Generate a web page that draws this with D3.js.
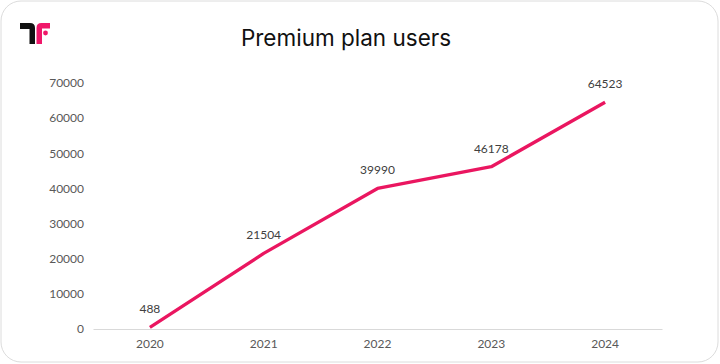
<!DOCTYPE html>
<html><head><meta charset="utf-8">
<script src="https://cdn.jsdelivr.net/npm/d3@7"></script>
<style>
html,body{margin:0;padding:0;background:#fff;}
svg{display:block;}
</style></head>
<body>
<svg id="chart" width="720" height="364"></svg>
<script>
const years = ["2020","2021","2022","2023","2024"];
const users = [488, 21504, 39990, 46178, 64523];
const yTicks = [0,10000,20000,30000,40000,50000,60000,70000];
const title = "Premium plan users";

const svg = d3.select("#chart");
// card
svg.append("rect").attr("x",1).attr("y",1).attr("width",717).attr("height",361)
  .attr("rx",20).attr("fill","#fff").attr("stroke","#dcdcdc").attr("stroke-width",1);

// logo
const logo = svg.append("g");
logo.append("path").attr("d","M20,23 H30 Q35,23 35,28 V44 H29.5 V29 H20 Z").attr("fill","#111");
logo.append("path").attr("d","M36.5,44 V28 Q36.5,23 41.5,23 H50 V28.5 H42 V44 Z").attr("fill","#f0186a");
logo.append("circle").attr("cx",45.5).attr("cy",33).attr("r",2.4).attr("fill","#f0186a");

svg.append("text").attr("x",346).attr("y",46).attr("text-anchor","middle")
  .attr("font-family","Inter, 'Noto Sans', sans-serif").attr("font-size",22.5)
  .attr("fill","#111").text(title);

const x = d3.scaleBand().domain(years).range([93,662]);
const y = d3.scaleLinear().domain([0,70000]).range([329,83]);

const font = "Lato, 'Open Sans', sans-serif";
// y axis labels
const yAxis = svg.append("g").attr("transform","translate(84,0)")
  .call(d3.axisLeft(y).tickValues(yTicks).tickSize(0).tickPadding(0).tickFormat(d3.format("d")));
yAxis.select(".domain").remove();
yAxis.selectAll("text").attr("font-family",font).attr("font-size",12).attr("fill","#595959");

// x axis
const xAxis = svg.append("g").attr("transform","translate(0,329)")
  .call(d3.axisBottom(x).tickSize(0).tickPadding(10));
xAxis.select(".domain").attr("stroke","#d9d9d9").attr("stroke-width",1.2);
xAxis.selectAll("text").attr("font-family",font).attr("font-size",12).attr("fill","#595959");

const cx = d => x(d) + x.bandwidth()/2;
const line = d3.line().x((d,i)=>cx(years[i])).y(d=>y(d));
svg.append("path").datum(users).attr("d",line).attr("fill","none")
  .attr("stroke","#ea1660").attr("stroke-width",3.3).attr("stroke-linejoin","round");

svg.append("g").selectAll("text").data(users).join("text")
  .attr("x",(d,i)=>cx(years[i])).attr("y",d=>y(d)-14)
  .attr("text-anchor","middle").attr("font-family",font).attr("font-size",12)
  .attr("fill","#404040").text(d=>d);
</script>
</body></html>
